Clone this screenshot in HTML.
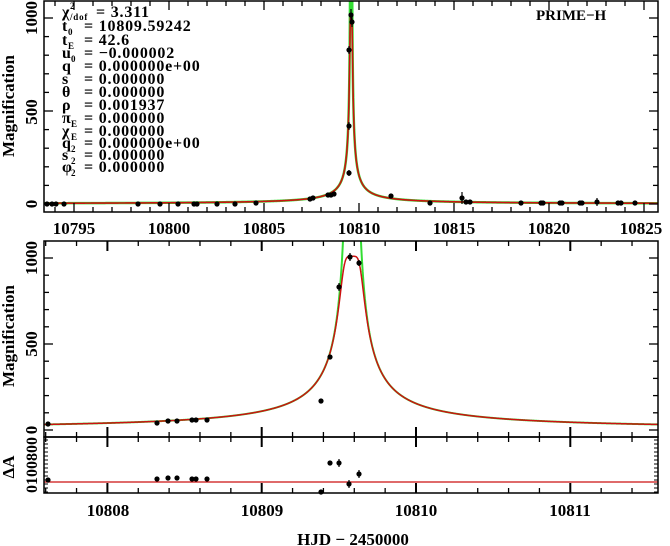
<!DOCTYPE html>
<html><head><meta charset="utf-8"><style>
html,body{margin:0;padding:0;background:#fff;}
svg{display:block;}
text{font-family:"Liberation Serif",serif;font-weight:bold;fill:#000;}
</style></head><body>
<svg id="s" width="670" height="546" viewBox="0 0 670 546" xmlns="http://www.w3.org/2000/svg">
<defs>
<clipPath id="c1"><rect x="44" y="1" width="614" height="211"/></clipPath>
<clipPath id="c2"><rect x="44" y="241" width="614" height="196"/></clipPath>
</defs>
<g id="g"></g>
<g font-size="17" text-anchor="middle">
<text x="74" y="234">10795</text><text x="169" y="234">10800</text><text x="264" y="234">10805</text>
<text x="359" y="234">10810</text><text x="454" y="234">10815</text><text x="549" y="234">10820</text><text x="641" y="234">10825</text>
<text x="108" y="516">10808</text><text x="262" y="516">10809</text><text x="416" y="516">10810</text><text x="570" y="516">10811</text>
<text x="353" y="545">HJD − 2450000</text>
</g>
<g font-size="17" text-anchor="middle">
<text transform="translate(37,18) rotate(-90)">1000</text>
<text transform="translate(37,112) rotate(-90)">500</text>
<text transform="translate(37,204) rotate(-90)">0</text>
<text transform="translate(37,258) rotate(-90)">1000</text>
<text transform="translate(37,344) rotate(-90)">500</text>
<text transform="translate(37,430) rotate(-90)">0</text>
<text transform="translate(37,465) rotate(-90)" font-size="16">0100800</text>
<text transform="translate(14,106) rotate(-90)">Magnification</text>
<text transform="translate(14,336) rotate(-90)">Magnification</text>
<text transform="translate(14,467) rotate(-90)">ΔA</text>
</g>
<text x="536" y="20" font-size="15">PRIME−H</text>
<g font-size="16" letter-spacing="0.8">
<text x="62" y="17">χ</text><text x="70" y="9" font-size="9">2</text><text x="70" y="20" font-size="9">/dof</text><text x="96" y="17">= 3.311</text>
<text x="62" y="31">t</text><text x="68" y="35" font-size="9">0</text><text x="84" y="31">= 10809.59242</text>
<text x="62" y="45">t</text><text x="68" y="49" font-size="9">E</text><text x="84" y="45">= 42.6</text>
<text x="62" y="58">u</text><text x="71" y="62" font-size="9">0</text><text x="84" y="58">= −0.000002</text>
<text x="62" y="71">q</text><text x="84" y="71">= 0.000000e+00</text>
<text x="62" y="84">s</text><text x="84" y="84">= 0.000000</text>
<text x="62" y="97">θ</text><text x="84" y="97">= 0.000000</text>
<text x="62" y="110">ρ</text><text x="84" y="110">= 0.001937</text>
<text x="62" y="123">π</text><text x="71" y="127" font-size="9">E</text><text x="84" y="123">= 0.000000</text>
<text x="62" y="136">χ</text><text x="71" y="140" font-size="9">E</text><text x="84" y="136">= 0.000000</text>
<text x="62" y="148">q</text><text x="71" y="152" font-size="9">2</text><text x="84" y="148">= 0.000000e+00</text>
<text x="62" y="160">s</text><text x="71" y="164" font-size="9">2</text><text x="84" y="160">= 0.000000</text>
<text x="62" y="172">φ</text><text x="71" y="176" font-size="9">2</text><text x="84" y="172">= 0.000000</text>
</g>
</svg>
<script>
var g=document.getElementById('g'),NS='http://www.w3.org/2000/svg';
function el(t,a){var e=document.createElementNS(NS,t);for(var k in a)e.setAttribute(k,a[k]);g.appendChild(e);return e;}
var t0=10809.585,tE=64;
function A(t,fs){var u=Math.max(Math.abs(t-t0)/tE,1e-7);var u2=u*u;var a=(u2+2)/(u*Math.sqrt(u2+4));
 if(fs){var n=5,M=1010;a=1/Math.pow(Math.pow(1/a,n)+Math.pow(1/M,n),1/n);}return a;}
function X1(t){return 359+(t-10810)*19;} function Y1(a){return 204-a*0.186;}
function X2(t){return 416+(t-10810)*154.3;} function Y2(a){return 430-a*0.172;}
function dense(X,Y,t1,t2,fs){var d='',pts=[];for(var i=0;i<=3000;i++){pts.push(t1+(t2-t1)*i/3000);}
 for(var j=-400;j<=400;j++){pts.push(t0+j*0.0005);} pts.sort(function(a,b){return a-b});
 pts.forEach(function(t,i){d+=(i?'L':'M')+X(t).toFixed(2)+','+Math.max(-50,Y(A(t,fs))).toFixed(2);});return d;}
el('path',{d:dense(X1,Y1,10793.4,10825.8,false),stroke:'#33dd33','stroke-width':2.5,fill:'none','clip-path':'url(#c1)'});
el('path',{d:dense(X1,Y1,10793.4,10825.8,true),stroke:'#cc1111','stroke-width':1.6,fill:'none','clip-path':'url(#c1)'});
el('path',{d:dense(X2,Y2,10807.5,10811.7,false),stroke:'#33dd33','stroke-width':2,fill:'none','clip-path':'url(#c2)'});
el('path',{d:dense(X2,Y2,10807.5,10811.7,true),stroke:'#cc1111','stroke-width':1.5,fill:'none','clip-path':'url(#c2)'});
el('line',{x1:44,y1:482,x2:658,y2:482,stroke:'#cc1111','stroke-width':1.2});
[[44,1,614,211],[44,241,614,196],[44,437,614,56]].forEach(function(r){el('rect',{x:r[0],y:r[1],width:r[2],height:r[3],fill:'none',stroke:'#000','stroke-width':1.5});});
for(var t=10794;t<=10825;t++){var x=X1(t);if(x<45||x>657)continue;var L=(t%5==0)?9:5;
 el('line',{x1:x,y1:212,x2:x,y2:212-L,stroke:'#000','stroke-width':1.3});el('line',{x1:x,y1:1,x2:x,y2:1+L,stroke:'#000','stroke-width':1.3});}
for(var a=0;a<=1100;a+=100){var y=Y1(a);if(y<2)continue;var L=(a%500==0)?9:5;
 el('line',{x1:44,y1:y,x2:44+L,y2:y,stroke:'#000','stroke-width':1.3});el('line',{x1:658,y1:y,x2:658-L,y2:y,stroke:'#000','stroke-width':1.3});}
for(var k=0;k<=44;k++){var t=10807.6+k*0.1;var tt=Math.round(t*10)/10;if(Math.abs(tt*5-Math.round(tt*5))>1e-6)continue;var x=X2(tt);if(x<45||x>657)continue;
 var maj=Math.abs(tt-Math.round(tt))<1e-6;var L=maj?10:5;
 [241,437,493].forEach(function(yy,i){ if(i==0||i==2){var d=(i==0)?1:-1;el('line',{x1:x,y1:yy,x2:x,y2:yy+d*L,stroke:'#000','stroke-width':maj?2:1.3});}
  else{el('line',{x1:x,y1:yy-L,x2:x,y2:yy+L,stroke:'#000','stroke-width':maj?2:1.3});}});}
for(var a=0;a<=1000;a+=100){var y=Y2(a);var L=(a%500==0)?9:5;
 el('line',{x1:44,y1:y,x2:44+L,y2:y,stroke:'#000','stroke-width':1.3});el('line',{x1:658,y1:y,x2:658-L,y2:y,stroke:'#000','stroke-width':1.3});}
for(var y=440;y<=492;y+=4){el('line',{x1:44,y1:y,x2:48,y2:y,stroke:'#000','stroke-width':1});el('line',{x1:658,y1:y,x2:654,y2:y,stroke:'#000','stroke-width':1});}
function dot(x,y,e){el('circle',{cx:x,cy:y,r:2.6,fill:'#000'});if(e)el('line',{x1:x,y1:y-e,x2:x,y2:y+e,stroke:'#000','stroke-width':1.2});}
[[47,204],[52,204],[56,204],[64,204],[138,204],[160,204],[178,204],[194,204],[197,204],[217,204],[235,204],[256,203],[310,199],[313,198],[328,195],[331,195],[334,194],[349,173,3],[349,126,4],[349,50,4],[351,15,6],[352,22,5],[391,196],[430,203],[462,198,6],[466,202],[470,202],[521,203],[541,203],[543,203],[560,203],[562,203],[580,203],[582,203],[597,202,4],[618,203],[621,203],[635,203]].forEach(function(p){dot(p[0],p[1],p[2]);});
[[48,424],[157,423],[168,421],[177,421],[192,420],[196,420],[207,420],[321,401],[330,357],[339,287,4],[350,257,4],[359,263,3]].forEach(function(p){dot(p[0],p[1],p[2]);});
[[48,480],[157,479],[168,478],[177,478],[192,479],[196,479],[207,479],[321,492],[330,463],[339,463,4],[349,484,4],[359,474,4]].forEach(function(p){dot(p[0],p[1],p[2]);});
</script>
</body></html>
